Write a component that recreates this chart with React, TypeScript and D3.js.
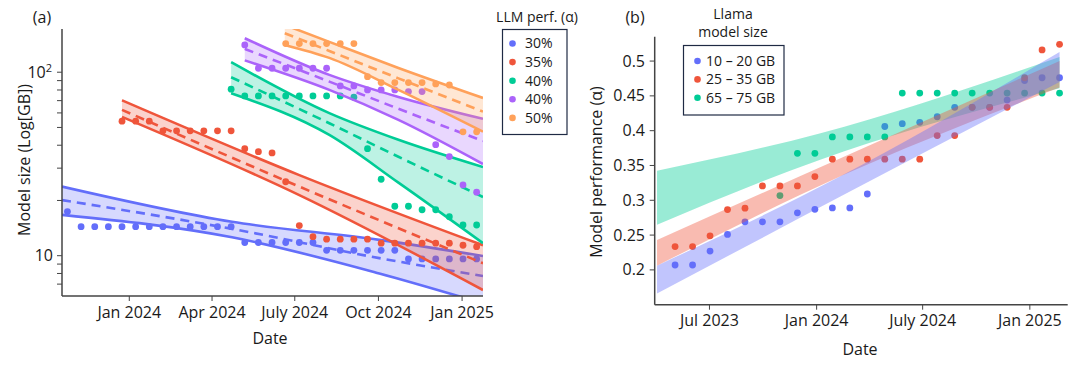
import React from "react";
import * as d3 from "d3";

const FONT = "'Open Sans', 'Noto Sans', sans-serif";
const INK = "#1a1a1a";
const AXIS = "#444";
const parse = d3.timeParse("%Y-%m-%d") as (s: string) => Date;

// plotly-like palette
const BLUE = "#636EFA";
const RED = "#EF553B";
const GREEN = "#00CC96";
const PURPLE = "#AB63FA";
const ORANGE = "#FFA15A";

// ---------- panel (a): model size needed for a given performance ----------
const aDates = [
  "2023-10-25", "2023-11-09", "2023-11-24", "2023-12-09", "2023-12-24",
  "2024-01-08", "2024-01-23", "2024-02-07", "2024-02-22", "2024-03-08",
  "2024-03-23", "2024-04-07", "2024-04-22", "2024-05-07", "2024-05-22",
  "2024-06-06", "2024-06-21", "2024-07-06", "2024-07-21", "2024-08-05",
  "2024-08-20", "2024-09-04", "2024-09-19", "2024-10-04", "2024-10-19",
  "2024-11-03", "2024-11-18", "2024-12-03", "2024-12-18", "2025-01-02",
  "2025-01-17",
];
const _ = null;
const aSize30 = [17.4, 14.4, 14.4, 14.4, 14.4, 14.4, 14.4, 14.4, 14.4, 14.4, 14.4, 14.4, 14.4,
  11.8, 11.8, 11.8, 11.8, 11.8, 11.8, 10.7, 10.7, 10.7, 10.7, 10.7, 10.7, 9.6, 9.6, 9.6, 9.6, 9.6, 9.6];
const aSize35 = [_, _, _, _, 54.1, 54.1, 54.1, 47.9, 47.9, 47.9, 47.9, 47.9, 47.9, 38.3, 36.9, 36.3,
  25.3, 14.6, 12.7, 12.3, 12.3, 12.3, 12.3, 11.7, 11.7, 11.7, 11.7, 11.7, 11.7, 11.4, 11.2];
const aSize40a = [_, _, _, _, _, _, _, _, _, _, _, _, 80.8, 74.3, 74.3, 74.3, 74.3, 74.3, 74.3,
  74.3, 74.3, 73.1, 38.3, 26.1, 18.6, 18.6, 17.8, 17.8, 16.3, 14.7, 14.7];
const aSize40b = [_, _, _, _, _, _, _, _, _, _, _, _, _, 140.9, 105.1, 105.1, 105.1, 105.1, 105.1,
  105.1, 84.2, 84.2, 80.1, 80.1, 80.1, 78.4, 78.4, 40.3, 34.7, 24.3, 22.2];
const aSize50 = [_, _, _, _, _, _, _, _, _, _, _, _, _, _, _, _, 143.2, 143.2, 143.2, 143.2, 143.2,
  143.2, 94.6, 87.8, 87.8, 87.8, 87.8, 86.3, 85.2, 47.3, 47.3];

// fitted trend with its band: [date, lower, mean, upper]
type Band = [string, number, number, number][];
const aBand30: Band = [
  ["2023-10-19", 16.7, 20.1, 23.8],
  ["2024-04-23", 12.6, 14.0, 15.3],
  ["2024-10-02", 8.0, 9.7, 12.2],
  ["2025-01-24", 5.5, 7.75, 9.96],
];
const aBand35: Band = [
  ["2023-12-24", 57.1, 62.3, 70.3],
  ["2024-07-06", 21.4, 23.8, 27.5],
  ["2025-01-24", 6.5, 9.1, 11.4],
];
const aBand40a: Band = [
  ["2024-04-22", 76.8, 93.9, 113.4],
  ["2024-08-08", 45.5, 52.7, 59.8],
  ["2024-10-23", 25.0, 34.6, 42.8],
  ["2025-01-24", 11.7, 20.9, 30.4],
];
const aBand40b: Band = [
  ["2024-05-07", 116.0, 134.0, 153.2],
  ["2024-08-08", 80.1, 88.9, 96.7],
  ["2024-10-23", 55.0, 63.2, 73.3],
  ["2025-01-24", 31.6, 42.2, 55.7],
];
const aBand50: Band = [
  ["2024-06-20", 140.9, 163.2, 181],
  ["2024-08-08", 119.7, 130.6, 146.3],
  ["2024-10-23", 80.1, 92.6, 105.5],
  ["2025-01-24", 47.4, 61.0, 72.4],
];
const aLegend = ["30%", "35%", "40%", "40%", "50%"];
const aColors = [BLUE, RED, GREEN, PURPLE, ORANGE];
const aValues = [aSize30, aSize35, aSize40a, aSize40b, aSize50];
const aBands = [aBand30, aBand35, aBand40a, aBand40b, aBand50];
const aXDomain = ["2023-10-19", "2025-01-24"];
const aYDomain = [6.03, 172];
const aXTicks = ["2024-01-01", "2024-04-01", "2024-07-01", "2024-10-01", "2025-01-01"];
const aXTickLabels = ["Jan 2024", "Apr 2024", "July 2024", "Oct 2024", "Jan 2025"];

// ---------- panel (b): Llama performance over time ----------
const bDates = [
  "2023-05-03", "2023-06-02", "2023-07-02", "2023-08-01", "2023-08-31", "2023-09-30",
  "2023-10-30", "2023-11-29", "2023-12-29", "2024-01-28", "2024-02-27", "2024-03-28",
  "2024-04-27", "2024-05-27", "2024-06-26", "2024-07-26", "2024-08-25", "2024-09-24",
  "2024-10-24", "2024-11-23", "2024-12-23", "2025-01-22", "2025-02-21",
];
const bPerf10to20 = [0.207, 0.207, 0.227, 0.251, 0.269, 0.269, 0.269, 0.282, 0.287, 0.289, 0.289,
  0.309, 0.406, 0.41, 0.412, 0.42, 0.4335, 0.4335, 0.4335, 0.444, 0.472, 0.476, 0.476];
const bPerf25to35 = [0.2335, 0.2335, 0.249, 0.2866, 0.2886, 0.3206, 0.3206, 0.3206, 0.334, 0.359,
  0.359, 0.359, 0.359, 0.359, 0.359, 0.393, 0.393, 0.4335, 0.4335, 0.4335, 0.476, 0.516, 0.524];
const bPerf65to75 = [_, _, _, _, _, _, 0.3067, 0.3675, 0.3675, 0.391, 0.391, 0.391, 0.391,
  0.454, 0.454, 0.454, 0.454, 0.454, 0.454, 0.454, 0.454, 0.454, 0.454];
// band: [date, lower, upper]
type Band2 = [string, number, number][];
const bBand65to75: Band2 = [
  ["2023-04-02", 0.265, 0.3425],
  ["2024-01-06", 0.358, 0.396],
  ["2025-02-21", 0.461, 0.506],
];
const bBand25to35: Band2 = [
  ["2023-04-02", 0.206, 0.243],
  ["2024-02-10", 0.334, 0.36],
  ["2025-02-21", 0.462, 0.5],
];
const bBand10to20: Band2 = [
  ["2023-04-02", 0.166, 0.206],
  ["2024-02-10", 0.305, 0.334],
  ["2025-02-21", 0.47, 0.513],
];
const bLegend = ["10 \u2013 20 GB", "25 \u2013 35 GB", "65 \u2013 75 GB"];
const bColors = [BLUE, RED, GREEN];
const bValues = [bPerf10to20, bPerf25to35, bPerf65to75];
const bBands = [bBand10to20, bBand25to35, bBand65to75];
const bXDomain = ["2023-03-29", "2025-03-07"];
const bYDomain = [0.15, 0.535];
const bYTicks = [0.2, 0.25, 0.3, 0.35, 0.4, 0.45, 0.5];
const bXTicks = ["2023-07-01", "2024-01-01", "2024-07-01", "2025-01-01"];
const bXTickLabels = ["Jul 2023", "Jan 2024", "July 2024", "Jan 2025"];

function PanelA() {
  const x = d3.scaleTime().domain(aXDomain.map(parse)).range([62, 483]);
  const y = d3.scaleLog().domain(aYDomain).range([296, 29]);
  const [x0, x1] = x.range();
  const [y0, y1] = y.range();
  const dates = aDates.map(parse);
  const yTicks = y.ticks().filter((t) => t >= aYDomain[0] && t <= aYDomain[1]);

  return (
    <g fontFamily={FONT}>
      <defs>
        <clipPath id="clipA">
          <rect x={x0} y={y1} width={x1 - x0} height={y0 - y1} />
        </clipPath>
      </defs>
      <g clipPath="url(#clipA)">
        {aValues.map((vals, si) => {
          const color = aColors[si];
          const band = aBands[si].map(([d, lo, mid, hi]) => ({ d: parse(d), lo, mid, hi }));
          const area = d3
            .area<any>()
            .x((p) => x(p.d))
            .y0((p) => y(p.lo))
            .y1((p) => y(p.hi))
            .curve(d3.curveMonotoneX);
          const line = (k: string) =>
            d3
              .line<any>()
              .x((p) => x(p.d))
              .y((p) => y(p[k]))
              .curve(d3.curveMonotoneX)(band) as string;
          return (
            <g key={si}>
              {vals.map((v, i) =>
                v == null ? null : (
                  <circle key={i} cx={x(dates[i])} cy={y(v)} r={3.4} fill={color} />
                )
              )}
              <path d={area(band) as string} fill={color} fillOpacity={0.26} />
              <path d={line("hi")} fill="none" stroke={color} strokeWidth={2.6} />
              <path d={line("lo")} fill="none" stroke={color} strokeWidth={2.6} />
              <path d={line("mid")} fill="none" stroke={color} strokeWidth={2.6} strokeDasharray="9 6" />
            </g>
          );
        })}
      </g>

      {/* axes */}
      <line x1={x0} x2={x0} y1={y1} y2={y0} stroke={AXIS} strokeWidth={1.5} />
      <line x1={x0} x2={x1} y1={y0} y2={y0} stroke={AXIS} strokeWidth={1.5} />
      {yTicks.map((t) => (
        <line key={t} x1={x0 - 5} x2={x0} y1={y(t)} y2={y(t)} stroke={AXIS} strokeWidth={1} />
      ))}
      <text x={53} y={y(10)} dy="0.35em" textAnchor="end" fontSize={16} fill={INK}>10</text>
      <text x={52} y={y(100)} dy="0.35em" textAnchor="end" fontSize={16} fill={INK}>
        10<tspan dy="-0.5em" fontSize={11}>2</tspan>
      </text>
      {aXTicks.map((t, i) => {
        const xx = x(parse(t));
        return (
          <g key={t}>
            <line x1={xx} x2={xx} y1={y0} y2={y0 + 5} stroke={AXIS} strokeWidth={1} />
            <text x={xx} y={318} textAnchor="middle" fontSize={16} fill={INK}>{aXTickLabels[i]}</text>
          </g>
        );
      })}
      <text x={270} y={344} textAnchor="middle" fontSize={16} fill={INK}>Date</text>
      <text transform="translate(30,160) rotate(-90)" textAnchor="middle" fontSize={16} fill={INK}>
        Model size (Log[GB])
      </text>
      <text x={42} y={23} textAnchor="middle" fontSize={16} fill={INK}>(a)</text>

      {/* legend */}
      <text x={537} y={22} textAnchor="middle" fontSize={14} fill={INK}>LLM perf. (α)</text>
      <rect x={502.5} y={29.5} width={64.5} height={105} fill="white" stroke="#1f2a44" strokeWidth={1.2} />
      {aLegend.map((l, i) => (
        <g key={i} transform={`translate(0,${43.5 + i * 18.6})`}>
          <circle cx={512.5} cy={0} r={3.3} fill={aColors[i]} />
          <text x={525} y={0} dy="0.35em" fontSize={14} fill={INK}>{l}</text>
        </g>
      ))}
    </g>
  );
}

function PanelB() {
  const x = d3.scaleTime().domain(bXDomain.map(parse)).range([654.7, 1067.7]);
  const y = d3.scaleLinear().domain(bYDomain).range([304.7, 36.7]);
  const [x0, x1] = x.range();
  const [y0, y1] = y.range();
  const dates = bDates.map(parse);

  return (
    <g fontFamily={FONT}>
      {bValues.map((vals, si) =>
        vals.map((v, i) =>
          v == null ? null : (
            <circle key={`${si}-${i}`} cx={x(dates[i])} cy={y(v)} r={3.4} fill={bColors[si]} />
          )
        )
      )}
      {[2, 1, 0].map((si) => {
        const band = bBands[si].map(([d, lo, hi]) => ({ d: parse(d), lo, hi }));
        const area = d3
          .area<any>()
          .x((p) => x(p.d))
          .y0((p) => y(p.lo))
          .y1((p) => y(p.hi))
          .curve(d3.curveMonotoneX);
        return <path key={si} d={area(band) as string} fill={bColors[si]} fillOpacity={0.4} />;
      })}

      <line x1={x0} x2={x0} y1={y1} y2={y0} stroke={AXIS} strokeWidth={1.5} />
      <line x1={x0} x2={x1} y1={y0} y2={y0} stroke={AXIS} strokeWidth={1.5} />
      {bYTicks.map((t) => (
        <g key={t}>
          <line x1={x0 - 5} x2={x0} y1={y(t)} y2={y(t)} stroke={AXIS} strokeWidth={1} />
          <text x={645} y={y(t)} dy="0.35em" textAnchor="end" fontSize={16} fill={INK}>{String(t)}</text>
        </g>
      ))}
      {bXTicks.map((t, i) => {
        const xx = x(parse(t));
        return (
          <g key={t}>
            <line x1={xx} x2={xx} y1={y0} y2={y0 + 5} stroke={AXIS} strokeWidth={1} />
            <text x={xx} y={326} textAnchor="middle" fontSize={16} fill={INK}>{bXTickLabels[i]}</text>
          </g>
        );
      })}
      <text x={860} y={355} textAnchor="middle" fontSize={16} fill={INK}>Date</text>
      <text transform="translate(602,172) rotate(-90)" textAnchor="middle" fontSize={16} fill={INK}>
        Model performance (α)
      </text>
      <text x={635} y={23} textAnchor="middle" fontSize={16} fill={INK}>(b)</text>

      {/* legend */}
      <text x={733} y={19} textAnchor="middle" fontSize={14} fill={INK}>Llama</text>
      <text x={733} y={37} textAnchor="middle" fontSize={14} fill={INK}>model size</text>
      <rect x={683.5} y={45.5} width={100.5} height={69.5} fill="white" stroke="#1f2a44" strokeWidth={1.2} />
      {bLegend.map((l, i) => (
        <g key={i} transform={`translate(0,${61 + i * 18.4})`}>
          <circle cx={697.5} cy={0} r={3.3} fill={bColors[i]} />
          <text x={706} y={0} dy="0.35em" fontSize={14} fill={INK}>{l}</text>
        </g>
      ))}
    </g>
  );
}

export default function App() {
  return (
    <div style={{ position: "absolute", left: 0, top: 0 }}>
      <svg width={1075} height={366} viewBox="0 0 1075 366" style={{ display: "block", background: "white" }}>
        <PanelA />
        <PanelB />
      </svg>
    </div>
  );
}
